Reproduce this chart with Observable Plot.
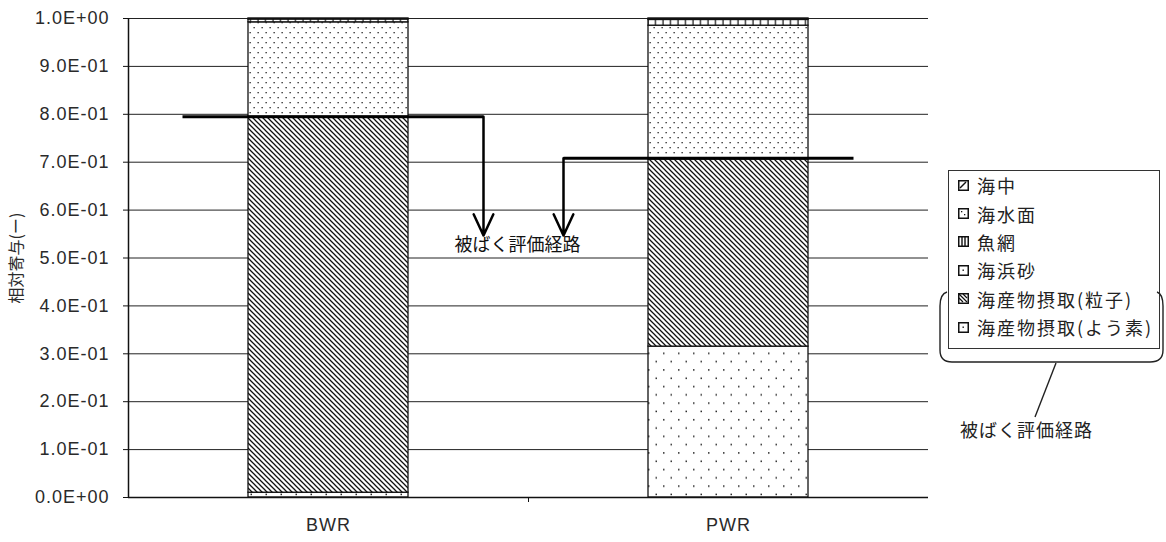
<!DOCTYPE html>
<html>
<head>
<meta charset="utf-8">
<script src="https://cdn.jsdelivr.net/npm/d3@7"></script>
<script src="https://cdn.jsdelivr.net/npm/@observablehq/plot@0.6"></script>
<style>
  html, body { margin: 0; padding: 0; background: #fff; }
  #wrap { position: relative; width: 1166px; height: 542px; overflow: hidden; font-family: "Liberation Sans", "Noto Sans CJK JP", sans-serif; color: #222; }
  #chart { position: absolute; left: 0; top: 0; }
  #legend { position: absolute; left: 948px; top: 170px; width: 212px; height: 179px; box-sizing: border-box;
            border: 1.5px solid #333; font-family: "Noto Sans CJK JP", sans-serif; font-size: 18px; color: #222; }
  .item { height: 28.4px; display: flex; align-items: center; padding-left: 9px; letter-spacing: 2px; }
  .item svg { margin-right: 8px; flex: none; }
  #overlay { position: absolute; left: 0; top: 0; pointer-events: none; }
  svg [aria-label="y-axis label"] text { font-size: 16px; font-family: "Noto Sans CJK JP", sans-serif; }
  svg [aria-label="y-axis tick label"] text { letter-spacing: 1px; }
  svg [aria-label="x-axis tick label"] text { letter-spacing: 1px; }
</style>
</head>
<body>
<div id="wrap">
  <div id="chart"></div>
  <div id="legend"></div>
  <svg id="overlay" width="1166" height="542"></svg>
</div>
<script>
// ---- data ----
const reactors = ["BWR", "PWR"];
// stacking order, bottom -> top
const pathways = ["海産物摂取(よう素)", "海産物摂取(粒子)", "海浜砂", "魚網", "海水面", "海中"];
const bwrValues = [0.010, 0.785, 0.197, 0.006, 0.001, 0.001];
const pwrValues = [0.315, 0.391, 0.279, 0.012, 0.002, 0.001];
const yTicks = [0, 0.1, 0.2, 0.3, 0.4, 0.5, 0.6, 0.7, 0.8, 0.9, 1.0];
const yTickLabels = ["0.0E+00", "1.0E-01", "2.0E-01", "3.0E-01", "4.0E-01", "5.0E-01",
                     "6.0E-01", "7.0E-01", "8.0E-01", "9.0E-01", "1.0E+00"];
const yLabel = "相対寄与(ー)";
const annotationText = "被ばく評価経路";
// exposure-path indicator lines (x in category units: BWR centred at 0.5, PWR at 1.5)
const pathLines = [
  {reactor: "BWR", level: 0.795, from: 0.135, to: 0.8875, arrowX: 0.8875, tip: 0.547},
  {reactor: "PWR", level: 0.708, from: 1.0875, to: 1.8125, arrowX: 1.0875, tip: 0.547}
];
const pathLabel = [{x: 0.9725, y: 0.526, text: annotationText}];

// ---- styles (patterns) ----
const patternId = {
  "海中": "p-fwd",
  "海水面": "p-dotsmall",
  "魚網": "p-vert",
  "海浜砂": "p-dots",
  "海産物摂取(粒子)": "p-back",
  "海産物摂取(よう素)": "p-sparse"
};

// ---- build stacked table ----
const seriesByReactor = {BWR: bwrValues, PWR: pwrValues};
const rects = [];
reactors.forEach((r, ri) => {
  let acc = 0;
  seriesByReactor[r].forEach((v, i) => {
    rects.push({reactor: r, pathway: pathways[i], x1: ri + 0.3, x2: ri + 0.7, y1: acc, y2: acc + v});
    acc += v;
  });
});

const plot = Plot.plot({
  width: 935,
  height: 542,
  marginLeft: 128,
  marginRight: 7,
  marginTop: 18,
  marginBottom: 45,
  style: {fontFamily: "'Liberation Sans', Arial, 'Noto Sans CJK JP', sans-serif", fontSize: "18px", color: "#2a2a2a", background: "white"},
  x: {domain: [0, 2]},
  y: {domain: [0, 1]},
  marks: [
    Plot.gridY(yTicks, {stroke: "#222", strokeOpacity: 1, strokeWidth: 1}),
    Plot.rect(rects, {x1: "x1", x2: "x2", y1: "y1", y2: "y2",
      fill: d => `url(#${patternId[d.pathway]})`, stroke: "#111", strokeWidth: 1.3}),
    Plot.ruleX([0], {stroke: "#111", strokeWidth: 1.5}),
    Plot.ruleY([0], {stroke: "#111", strokeWidth: 1.5}),
    Plot.axisY(yTicks, {tickSize: 5, tickPadding: 14, tickFormat: d => yTickLabels[yTicks.indexOf(d)],
      label: yLabel, labelAnchor: "center", labelOffset: 118, labelArrow: "none", stroke: "#111"}),
    Plot.axisX([0.5, 1.5], {tickSize: 0, tickPadding: 21, tickFormat: d => reactors[Math.floor(d)], label: null}),
    Plot.axisX([1], {tickSize: 5, tickFormat: () => "", label: null, stroke: "#111"}),
    Plot.link(pathLines, {x1: "from", x2: "to", y1: "level", y2: "level", stroke: "#000", strokeWidth: 3}),
    Plot.arrow(pathLines, {x1: "arrowX", x2: "arrowX", y1: "level", y2: "tip", stroke: "#000",
      strokeWidth: 2.5, headLength: 14, headAngle: 50}),
    Plot.text(pathLabel, {x: "x", y: "y", text: "text", fontSize: 18, fill: "#111",
      fontFamily: "'Noto Sans CJK JP', sans-serif"})
  ]
});
document.getElementById("chart").appendChild(plot);

// pattern definitions
const defs = d3.select(plot).insert("defs", ":first-child");
function pat(id, w, h) {
  const p = defs.append("pattern").attr("id", id).attr("patternUnits", "userSpaceOnUse")
    .attr("width", w).attr("height", h);
  p.append("rect").attr("width", w).attr("height", h).attr("fill", "white");
  return p;
}
// "\" hatch
pat("p-back", 5, 5).append("path").attr("d", "M0,0L5,5M-1,4L1,6M4,-1L6,1")
  .attr("stroke", "#111").attr("stroke-width", 1.25);
// "/" hatch
pat("p-fwd", 5, 5).append("path").attr("d", "M0,5L5,0M-1,1L1,-1M4,6L6,4")
  .attr("stroke", "#111").attr("stroke-width", 1.2);
// vertical lines
pat("p-vert", 7.5, 7.5).append("path").attr("d", "M3,0V7.5").attr("stroke", "#111").attr("stroke-width", 1.2);
// dense dots
{
  const p = pat("p-dots", 8, 10);
  [[1.5, 2], [5.5, 7]].forEach(([x, y]) => p.append("rect").attr("x", x).attr("y", y).attr("width", 1.3).attr("height", 1.3).attr("fill", "#222"));
}
// sparse dots
{
  const p = pat("p-sparse", 15, 16.6);
  [[3, 4], [10.5, 12.3]].forEach(([x, y]) => p.append("rect").attr("x", x).attr("y", y).attr("width", 1.5).attr("height", 1.5).attr("fill", "#222"));
}
// small dots
{
  const p = pat("p-dotsmall", 4, 4);
  p.append("rect").attr("x", 1).attr("y", 1).attr("width", 1.2).attr("height", 1.2).attr("fill", "#222");
}

// ---- legend (top of stack first) ----
const legend = d3.select("#legend");
const swatchDraw = {
  "海中": s => s.append("path").attr("d", "M2,8L8,2").attr("stroke", "#111").attr("stroke-width", 1.4),
  "海水面": s => { s.append("rect").attr("x", 3).attr("y", 3).attr("width", 1.3).attr("height", 1.3).attr("fill", "#111");
                  s.append("rect").attr("x", 6).attr("y", 6).attr("width", 1.3).attr("height", 1.3).attr("fill", "#111"); },
  "魚網": s => s.append("path").attr("d", "M4,0V10M7,0V10").attr("stroke", "#111").attr("stroke-width", 1.4),
  "海浜砂": s => s.append("rect").attr("x", 4.5).attr("y", 4.5).attr("width", 1.4).attr("height", 1.4).attr("fill", "#111"),
  "海産物摂取(粒子)": s => s.append("path").attr("d", "M1,1L9,9M1,5L5,9M5,1L9,5").attr("stroke", "#111").attr("stroke-width", 1.2),
  "海産物摂取(よう素)": s => s.append("rect").attr("x", 4.5).attr("y", 4.5).attr("width", 1.4).attr("height", 1.4).attr("fill", "#111")
};
pathways.slice().reverse().forEach(name => {
  const row = legend.append("div").attr("class", "item");
  const s = row.append("svg").attr("width", 11).attr("height", 11);
  s.append("rect").attr("x", 0.75).attr("y", 0.75).attr("width", 9.5).attr("height", 9.5).attr("fill", "white").attr("stroke", "#111").attr("stroke-width", 1.5);
  swatchDraw[name](s);
  row.append("span").text(name);
});

// ---- bracket grouping the two seafood pathways ----
const ov = d3.select("#overlay");
ov.append("path")
  .attr("d", "M947,292 Q940,294 940,306 L940,350 Q940,362 952,362 L1150,362 Q1163,362 1163,350 L1163,306 Q1163,294 1157,292")
  .attr("fill", "none").attr("stroke", "#222").attr("stroke-width", 1.4);
ov.append("path").attr("d", "M1056,363L1035,417").attr("fill", "none").attr("stroke", "#222").attr("stroke-width", 1.4);
ov.append("text").attr("x", 960).attr("y", 431).attr("dy", "0.35em")
  .attr("font-family", "'Noto Sans CJK JP', sans-serif").attr("font-size", 18).attr("letter-spacing", 1)
  .attr("fill", "#222").text(annotationText);
</script>
</body>
</html>
